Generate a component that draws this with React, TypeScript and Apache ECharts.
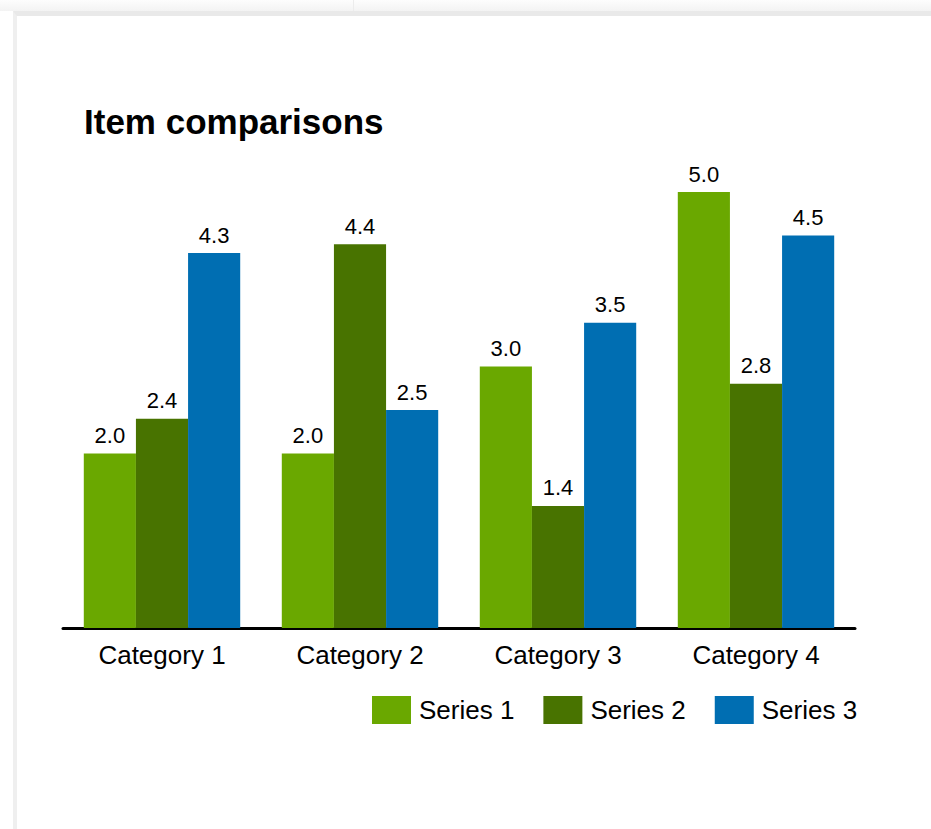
import React, { useEffect, useRef } from "react";
import * as echarts from "echarts";

const categories = ["Category 1", "Category 2", "Category 3", "Category 4"];
const seriesNames = ["Series 1", "Series 2", "Series 3"];
const series1 = [2.0, 2.0, 3.0, 5.0];
const series2 = [2.4, 4.4, 1.4, 2.8];
const series3 = [4.3, 2.5, 3.5, 4.5];
const colors = ["#6AA800", "#487300", "#006EB2"];

const FONT = "'Liberation Sans', Arial, sans-serif";

export default function App() {
  const ref = useRef<HTMLDivElement>(null);
  useEffect(() => {
    if (!ref.current) return;
    const chart = echarts.init(ref.current, null, { renderer: "svg" });
    const data = [series1, series2, series3];
    chart.setOption({
      animation: false,
      color: colors,
      title: {
        text: "Item comparisons",
        left: 84,
        top: 104,
        padding: 0,
        textStyle: { fontFamily: FONT, fontSize: 35, fontWeight: "bold", color: "#000" },
      },
      legend: {
        left: 372,
        top: 696,
        padding: 0,
        itemWidth: 39,
        itemHeight: 28,
        itemGap: 29,
        icon: "rect",
        textStyle: { fontFamily: FONT, fontSize: 26, color: "#000", padding: [0, 0, 0, 3] },
        data: seriesNames,
      },
      grid: { left: 63, right: 76, top: 192, bottom: 201, containLabel: false },
      xAxis: {
        type: "category",
        data: categories,
        axisLine: { show: true, lineStyle: { color: "#000", width: 3 } },
        axisTick: { show: false },
        axisLabel: { fontFamily: FONT, fontSize: 26, color: "#000", margin: 14 },
      },
      yAxis: {
        type: "value",
        min: 0,
        max: 5,
        show: false,
        splitLine: { show: false },
      },
      series: seriesNames.map((name, i) => ({
        name,
        type: "bar",
        data: data[i],
        barGap: "0%",
        barCategoryGap: "21%",
        itemStyle: { color: colors[i] },
        label: {
          show: true,
          position: "top",
          distance: 7,
          fontFamily: FONT,
          fontSize: 22,
          color: "#000",
          formatter: (p: any) => Number(p.value).toFixed(1),
        },
      })),
    });
    return () => chart.dispose();
  }, []);

  return (
    <div style={{ position: "fixed", left: 0, top: 0, width: 931, height: 829, background: "#fff", overflow: "hidden" }}>
      <div style={{ position: "absolute", left: 0, top: 0, width: 931, height: 11, background: "linear-gradient(#fdfdfd, #f3f3f3)" }} />
      <div style={{ position: "absolute", left: 353, top: 0, width: 1, height: 11, background: "#ececec" }} />
      <div
        style={{
          position: "absolute",
          left: 13,
          top: 11,
          width: 931,
          height: 829,
          background: "#fff",
          borderTop: "5px solid #e9e9e9",
          borderLeft: "4px solid #efefef",
          boxSizing: "border-box",
        }}
      />
      <div ref={ref} style={{ position: "absolute", left: 0, top: 0, width: 931, height: 829 }} />
    </div>
  );
}
